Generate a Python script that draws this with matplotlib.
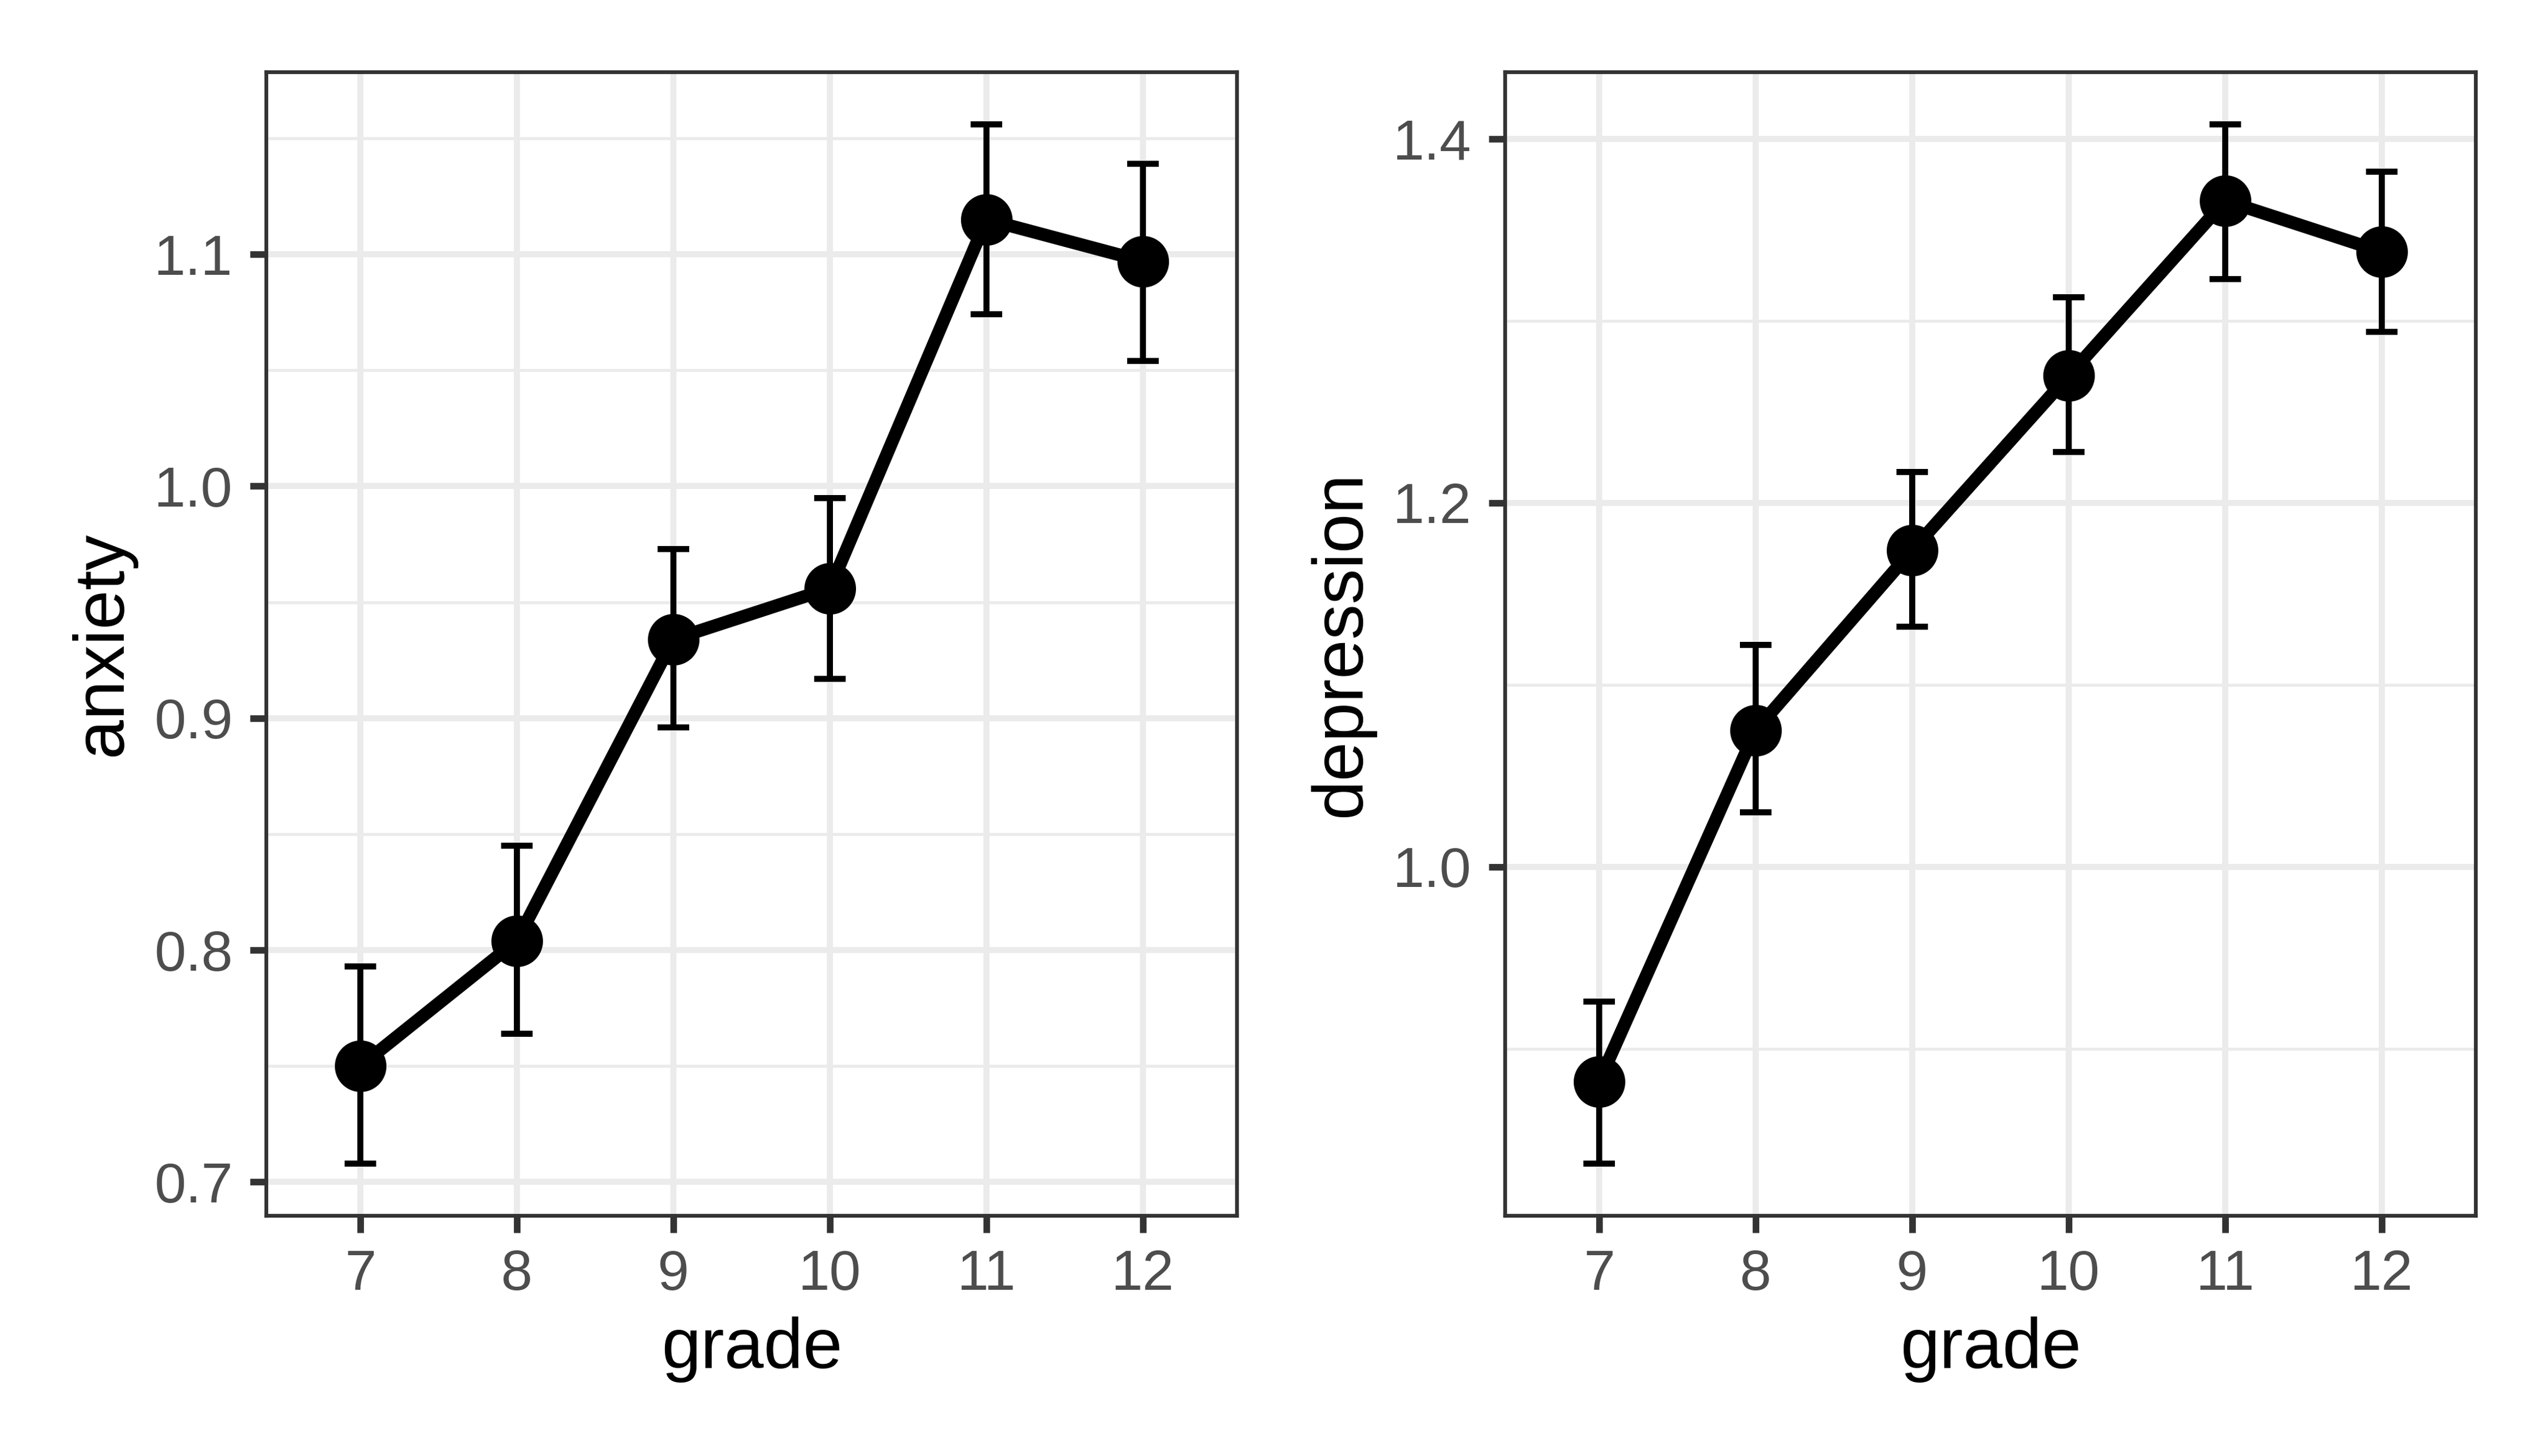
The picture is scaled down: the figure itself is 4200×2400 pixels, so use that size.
import matplotlib
matplotlib.use("Agg")
import matplotlib.pyplot as plt
from matplotlib.ticker import FixedLocator

plt.rcParams['font.family'] = ['Liberation Sans', 'DejaVu Sans']

grades = [7, 8, 9, 10, 11, 12]
grade_labels = ["7", "8", "9", "10", "11", "12"]

anxiety_mean = [0.750, 0.804, 0.934, 0.956, 1.115, 1.097]
anxiety_low = [0.708, 0.764, 0.896, 0.917, 1.074, 1.054]
anxiety_high = [0.793, 0.845, 0.973, 0.995, 1.156, 1.139]

depression_mean = [0.882, 1.075, 1.174, 1.270, 1.366, 1.338]
depression_low = [0.837, 1.030, 1.132, 1.228, 1.323, 1.294]
depression_high = [0.926, 1.122, 1.217, 1.313, 1.408, 1.382]

anxiety_ticks = [0.7, 0.8, 0.9, 1.0, 1.1]
anxiety_minor = [0.75, 0.85, 0.95, 1.05, 1.15]
depression_ticks = [1.0, 1.2, 1.4]
depression_minor = [0.9, 1.1, 1.3]

fig = plt.figure(figsize=(7, 4), dpi=600)
ax1 = fig.add_axes([0.1045, 0.1652, 0.3810, 0.7851])
ax2 = fig.add_axes([0.5907, 0.1652, 0.3810, 0.7851])

def draw(ax, mean, low, high, ticks, minor, ylabel):
    x = list(range(len(grades)))
    yerr = [[m - l for m, l in zip(mean, low)], [h - m for m, h in zip(mean, high)]]
    ax.errorbar(x, mean, yerr=yerr, fmt='none', ecolor='black', elinewidth=1.2,
                capsize=3.1, capthick=1.2, zorder=3)
    ax.plot(x, mean, color='black', linewidth=2.55, zorder=4)
    ax.plot(x, mean, 'o', color='black', markersize=10.2, zorder=5, markeredgewidth=0)
    ax.set_xlim(-0.6, len(grades) - 1 + 0.6)
    lo = min(low); hi = max(high); r = hi - lo
    ax.set_ylim(lo - 0.05 * r, hi + 0.05 * r)
    ax.set_xticks(x)
    ax.set_xticklabels(grade_labels)
    ax.yaxis.set_major_locator(FixedLocator(ticks))
    ax.yaxis.set_minor_locator(FixedLocator(minor))
    ax.set_yticklabels([f"{t:.1f}" for t in ticks])
    ax.grid(True, which='major', color='#EBEBEB', linewidth=1.2, zorder=0)
    ax.grid(True, which='minor', axis='y', color='#EBEBEB', linewidth=0.6, zorder=0)
    ax.set_axisbelow(True)
    ax.tick_params(axis='both', which='major', length=3.3, width=1.3, color='#333333',
                   labelsize=11.2, labelcolor='#4D4D4D', pad=3.3)
    ax.tick_params(axis='y', which='minor', length=0)
    for s in ax.spines.values():
        s.set_color('#333333')
        s.set_linewidth(0.75)
    ax.set_xlabel('grade', fontsize=14, color='black', labelpad=3.1)
    ax.set_ylabel(ylabel, fontsize=14, color='black', labelpad=3.6)

draw(ax1, anxiety_mean, anxiety_low, anxiety_high, anxiety_ticks, anxiety_minor, 'anxiety')
draw(ax2, depression_mean, depression_low, depression_high, depression_ticks, depression_minor, 'depression')

fig.savefig('out.png', dpi=600, facecolor='white')
